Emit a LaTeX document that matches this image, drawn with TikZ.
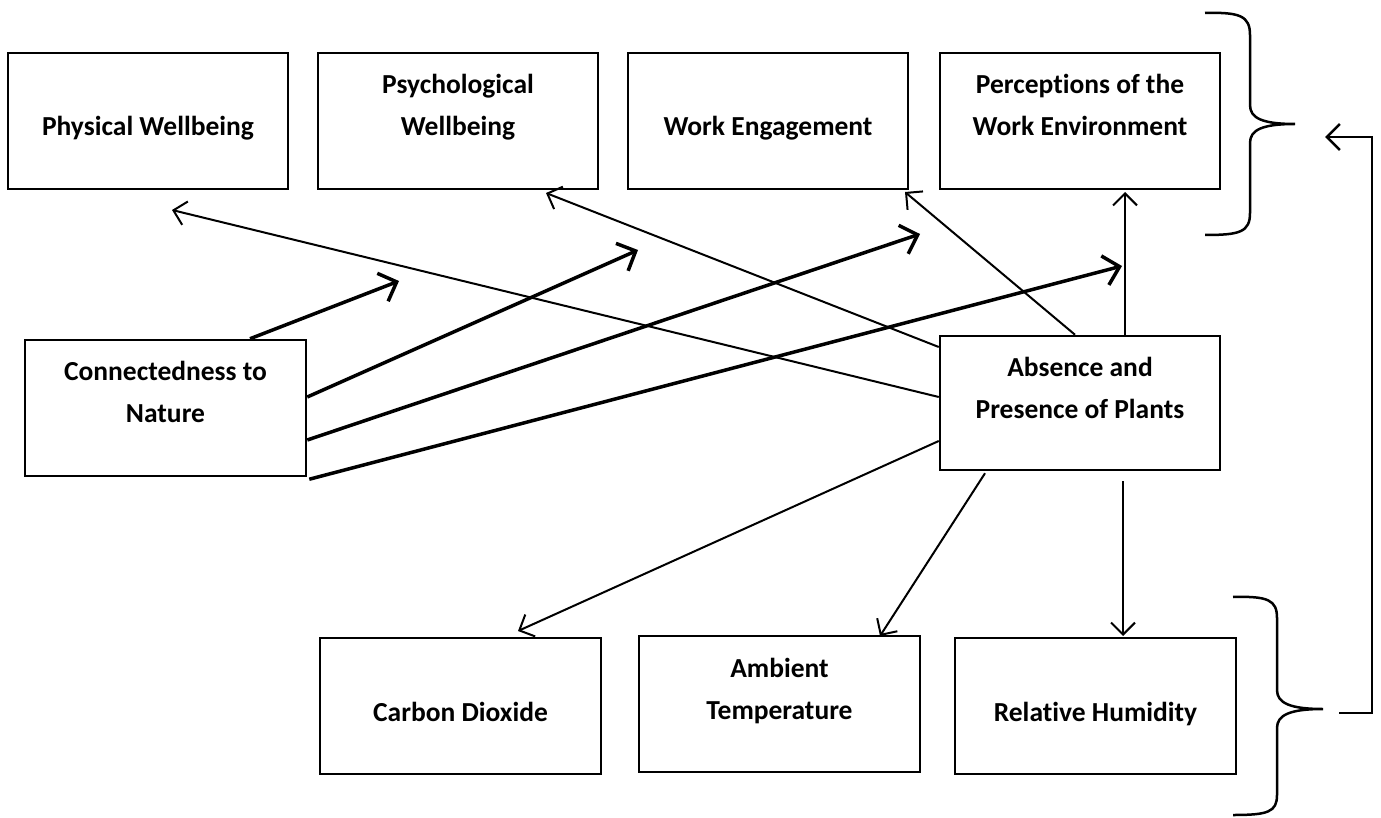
\documentclass[tikz,border=0pt]{standalone}
\usepackage{fontspec}
\setmainfont[Ligatures={NoCommon,NoContextual}]{Carlito}
\usetikzlibrary{arrows.meta}
\begin{document}
\begin{tikzpicture}[x=1pt,y=-1pt,
  box/.style={draw,line width=2.5pt,inner sep=0pt,minimum width=280pt,minimum height=136pt},
  lbl/.style={anchor=base,align=center,inner sep=0pt,font=\bfseries\fontsize{27.5}{42}\selectfont},
  thin/.style={line width=2pt,-{Straight Barb[length=12pt,width=24pt]}},
  thick/.style={line width=3.5pt,-{Straight Barb[length=15pt,width=30pt]}},
  brace/.style={line width=2.5pt}]
\useasboundingbox (0,0) rectangle (1381,818);
% boxes
\node[box] (pw) at (148,121) {};
\node[box] (psy) at (458,121) {};
\node[box] (we) at (768,121) {};
\node[box] (pe) at (1080,121) {};
\node[box,minimum width=281pt] (cn) at (165.5,408) {};
\node[box,minimum height=134pt] (ap) at (1080,403) {};
\node[box,minimum width=281pt] (cd) at (460.5,706) {};
\node[box,minimum width=281pt] (at) at (779.5,704) {};
\node[box,minimum width=281pt] (rh) at (1095.5,706) {};
% labels (base = baseline of last line)
\node[lbl] (tpw) at (148,136) {Physical Wellbeing};
\node[lbl] (tpsy) at (458,136) {Psychological\\Wellbeing};
\node[lbl] (twe) at (768,136) {Work Engagement};
\node[lbl] (tpe) at (1080,136) {Perceptions of the\\Work Environment};
\node[lbl] (tcn) at (165.5,422) {Connectedness to\\Nature};
\node[lbl] (tap) at (1080,418) {Absence and\\Presence of Plants};
\node[lbl] (tcd) at (460.5,721) {Carbon Dioxide};
\node[lbl] (tat) at (779.5,719) {Ambient\\Temperature};
\node[lbl] (trh) at (1095.5,721) {Relative Humidity};
% free ends
\coordinate (e1) at (399,281);
\coordinate (e2) at (638,250);
\coordinate (e3) at (920,234);
\coordinate (e4) at (1122,266);
\coordinate (ea) at (172,210);
\coordinate (eb) at (546,193);
\coordinate (ec) at (905,192);
\coordinate (ed) at (1125,192);
\coordinate (ee) at (518,631);
\coordinate (ef) at (880,636);
\coordinate (eg) at (1123,636);
% connectedness arrows
\draw[thick] ([xshift=84.5pt]cn.north) -- (e1);
\draw[thick] ([yshift=11pt]cn.east) -- (e2);
\draw[thick] ([yshift=-32pt]cn.east) -- (e3);
\draw[thick] ([xshift=2pt,yshift=-2pt]cn.south east) -- (e4);
% plants arrows
\draw[thin] ([yshift=6pt]ap.west) -- (ea);
\draw[thin] ([yshift=56pt]ap.west) -- (eb);
\draw[thin] ([xshift=-5pt]ap.north) -- (ec);
\draw[thin] ([xshift=45pt]ap.north) -- (ed);
\draw[thin] ([yshift=-38pt]ap.west) -- (ee);
\draw[thin] ([xshift=-95pt,yshift=-2pt]ap.south) -- (ef);
\draw[thin] ([xshift=43pt,yshift=-10pt]ap.south) -- (eg);
% braces
\draw[brace] (1205,13) .. controls (1240,12) and (1250,16) .. (1250,35) -- (1250,105)
  .. controls (1250,118) and (1262,124) .. (1295,124)
  .. controls (1262,124) and (1250,130) .. (1250,143) -- (1250,213)
  .. controls (1250,232) and (1240,235) .. (1205,235);
\draw[brace] (1233,597) .. controls (1268,596) and (1277,600) .. (1277,618) -- (1277,690)
  .. controls (1277,703) and (1290,709) .. (1323,709)
  .. controls (1290,709) and (1277,715) .. (1277,728) -- (1277,795)
  .. controls (1277,812) and (1268,815) .. (1233,815);
% feedback arrow
\coordinate (fb1) at (1339,713);
\coordinate (fb2) at (1325,137);
\draw[line width=2.5pt,-{Straight Barb[length=13pt,width=26pt]}] (fb1) -- (1372,713) -- (1372,137) -- (fb2);
\end{tikzpicture}
\end{document}
